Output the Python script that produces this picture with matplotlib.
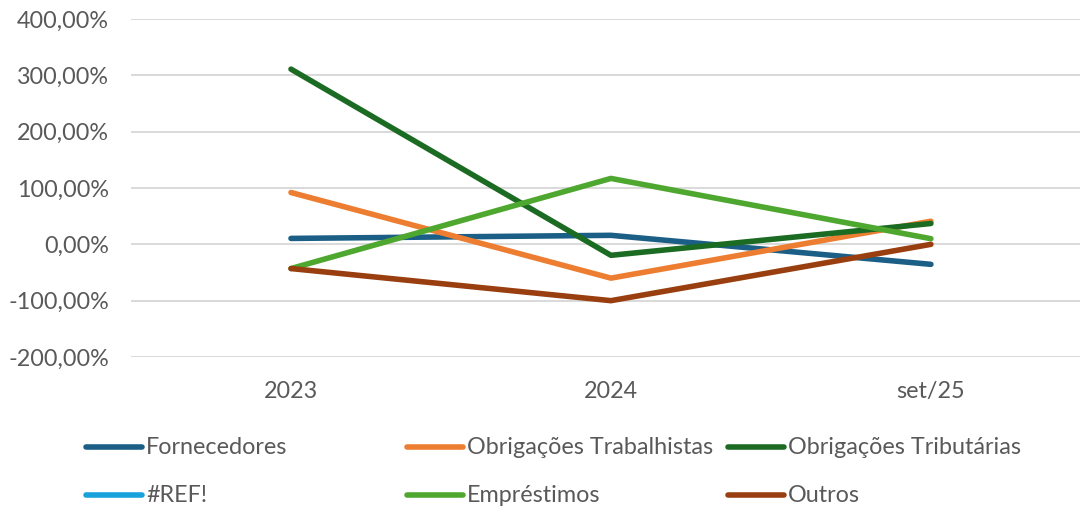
import matplotlib
matplotlib.use("Agg")
import matplotlib.pyplot as plt
from matplotlib.lines import Line2D
from matplotlib.ticker import FuncFormatter

plt.rcParams['font.family'] = ['Lato', 'DejaVu Sans']

categorias = ["2023", "2024", "set/25"]
fornecedores = [10.5, 16.0, -35.5]
obrig_trab = [92.0, -60.0, 41.0]
obrig_trib = [311.0, -19.5, 37.0]
ref_erro = [None, None, None]
emprestimos = [-43.0, 117.0, 10.0]
outros = [-43.0, -100.0, 0.0]

nomes = ["Fornecedores", "Obrigações Trabalhistas", "Obrigações Tributárias",
         "#REF!", "Empréstimos", "Outros"]
series = [fornecedores, obrig_trab, obrig_trib, ref_erro, emprestimos, outros]
cores = ["#1B5E86", "#ED7D31", "#1C6B23", "#17A2DC", "#4EA72E", "#993E0F"]

W, H = 1080, 512
fig = plt.figure(figsize=(W / 100, H / 100), dpi=100)
ax = fig.add_axes([131 / W, 1 - 357 / H, (W - 131) / W, (357 - 19) / H])

x = list(range(len(categorias)))
for vals, cor in zip(series, cores):
    if all(v is None for v in vals):
        continue
    ax.plot(x, vals, color=cor, lw=4, solid_capstyle='round',
            solid_joinstyle='round', zorder=3)

ax.set_xlim(-0.5, 2.466)
ax.set_ylim(-200, 400)
ax.set_yticks(range(-200, 401, 100))
ax.yaxis.set_major_formatter(FuncFormatter(lambda v, p: f"{v:.2f}%".replace(".", ",")))
ax.set_xticks(x)
ax.set_xticklabels(categorias)
ax.grid(axis='y', color='#D9D9D9', lw=1.4)
ax.set_axisbelow(True)
for s in ax.spines.values():
    s.set_visible(False)
ax.tick_params(length=0, labelsize=16.8, labelcolor='#595959')
ax.tick_params(axis='y', pad=16)
ax.tick_params(axis='x', pad=17)

# legenda em grade 3x2, colunas de largura fixa como no Excel
col_x = [84, 405, 726]
row_y = [447, 495]
for i, (nome, cor) in enumerate(zip(nomes, cores)):
    cx = col_x[i % 3]
    cy = row_y[i // 3]
    fig.add_artist(Line2D([(cx + 2) / W, (cx + 58) / W], [1 - cy / H, 1 - cy / H],
                          color=cor, lw=4, solid_capstyle='round',
                          transform=fig.transFigure))
    fig.text((cx + 62) / W, 1 - cy / H, nome, fontsize=16.8, color='#595959',
             va='center', ha='left')

fig.savefig("out.png", dpi=100, facecolor='white')
